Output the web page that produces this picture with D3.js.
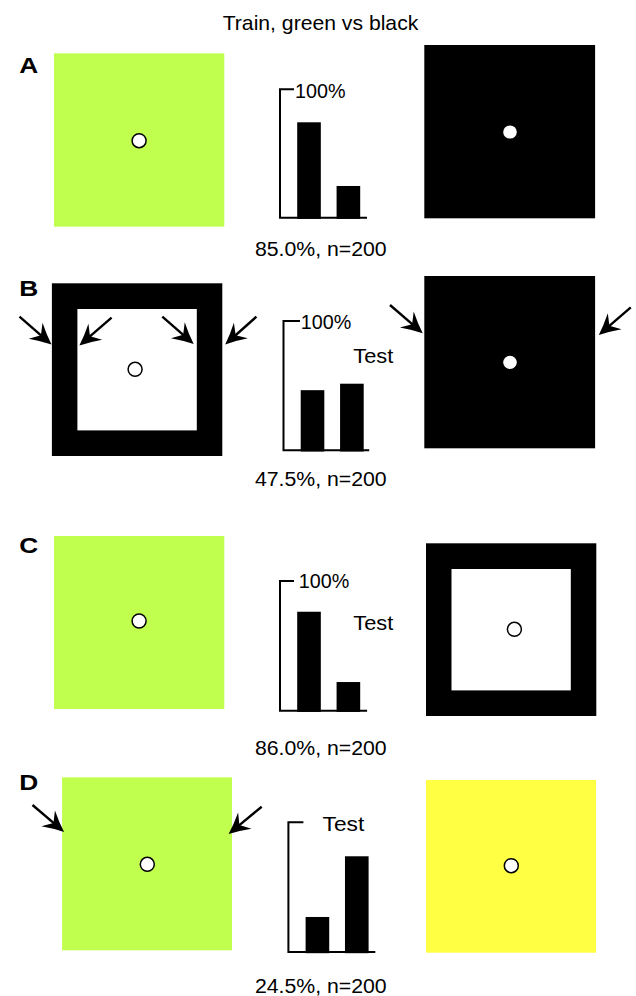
<!DOCTYPE html>
<html><head><meta charset="utf-8">
<script src="https://cdn.jsdelivr.net/npm/d3@7"></script>
<style>body{margin:0;background:#fff}svg{display:block}text{font-family:"Liberation Sans",Arial,sans-serif;fill:#000}</style>
</head><body>
<script>
// ---- data ----
const title = "Train, green vs black";
const panels = ["A", "B", "C", "D"];
const choiceLeft = [74.3, 46.5, 76.3, 27.0];   // % bar 1 (left stimulus)
const choiceRight = [24.7, 51.5, 22.1, 73.8];  // % bar 2 (right stimulus)
const scoreLabels = ["85.0%", "47.5%", "86.0%", "24.5%"];
const nTrials = [200, 200, 200, 200];
const axisLabels = ["100%", "100%", "100%", ""];
const phaseLabels = ["", "Test", "Test", "Test"];
const leftStim = ["green", "frame", "green", "green"];
const rightStim = ["black", "black", "frame", "yellow"];

// ---- layout (positions / styles) ----
const W = 636, H = 996;
const colors = {green: "#c1ff4f", yellow: "#ffff44", black: "#000"};
const layout = [
  {lab:[19.3,73.3], L:[54,53.3,170.3,173.4], R:[424.3,45,170.8,173.3], Lc:[139.1,140.7], Rc:[510,132],
   ax:280, top:89.3, base:217.7, end:367, tickEnd:294, axLab:[295,97.5], ph:null, score:256,
   arrows:[]},
  {lab:[19.3,296.3], L:[51.9,283.3,170.4,172.7], R:[424.3,276,170.8,172.3], Lc:[135.1,369.3], Rc:[510,362.3],
   ax:283.5, top:321, base:450.3, end:369.2, tickEnd:300, axLab:[300.7,328.5], ph:[353.3,363.3], score:486,
   arrows:[[19.5,316.7,51.5,344.5],[111.6,317.7,79.4,345.5],[162.3,316.7,193.7,344],[256.4,316.7,225.2,344.5],
           [390,305,422.7,333.3],[630.8,307.3,598.8,335]]},
  {lab:[19.3,553], L:[54,536,170.3,173], R:[426,543.3,170.3,172.7], Lc:[139.1,621], Rc:[514.4,629.3],
   ax:280, top:581, base:710.7, end:367.1, tickEnd:294, axLab:[298.8,588], ph:[353.3,629.8], score:755,
   arrows:[]},
  {lab:[19.3,790], L:[62.1,777.3,169.9,173], R:[426,780,170,172.7], Lc:[147.3,864.3], Rc:[511.3,865.7],
   ax:288.4, top:822.3, base:952, end:375.3, tickEnd:303.4, axLab:null, ph:[322.5,831], score:993,
   arrows:[[32.5,805,64.1,832],[261.7,806.7,228.6,834]]}
];

const svg = d3.select("body").append("svg").attr("width", W).attr("height", H);

function txt(g, s, x, y, size, len, anchor, bold) {
  const t = g.append("text").attr("x", x).attr("y", y).attr("font-size", size)
    .attr("text-anchor", anchor || "start").text(s);
  if (bold) t.attr("font-weight", "bold");
  if (len) t.attr("textLength", len).attr("lengthAdjust", "spacingAndGlyphs");
  return t;
}

txt(svg, title, 320.5, 30, 21, 195.6, "middle");

function stimulus(g, kind, r, c) {
  const [x, y, w, h] = r;
  if (kind === "frame") {
    g.append("rect").attr("x", x).attr("y", y).attr("width", w).attr("height", h).attr("fill", "#000");
    g.append("rect").attr("x", x + 25.5).attr("y", y + 25.7).attr("width", w - 51).attr("height", h - 51.3).attr("fill", "#fff");
    g.append("circle").attr("cx", c[0]).attr("cy", c[1]).attr("r", 7).attr("fill", "#fff").attr("stroke", "#000").attr("stroke-width", 1.5);
  } else {
    g.append("rect").attr("x", x).attr("y", y).attr("width", w).attr("height", h).attr("fill", colors[kind]);
    if (kind === "black")
      g.append("ellipse").attr("cx", c[0]).attr("cy", c[1]).attr("rx", 6.8).attr("ry", 6.6).attr("fill", "#fff");
    else
      g.append("circle").attr("cx", c[0]).attr("cy", c[1]).attr("r", 7).attr("fill", "#fff").attr("stroke", "#000").attr("stroke-width", 1.5);
  }
}

function arrow(g, a) {
  const [x1, y1, x2, y2] = a;
  const ang = Math.atan2(y2 - y1, x2 - x1) * 180 / Math.PI;
  const len = Math.hypot(x2 - x1, y2 - y1);
  const ag = g.append("g").attr("transform", `translate(${x2},${y2}) rotate(${ang})`);
  ag.append("line").attr("x1", -len).attr("y1", 0).attr("x2", -12).attr("y2", 0).attr("stroke", "#000").attr("stroke-width", 2.4);
  ag.append("path").attr("d", "M0,0 Q-10,-4 -21,-10.5 L-14,0 L-21,10.5 Q-10,4 0,0 Z").attr("fill", "#000");
}

panels.forEach((p, i) => {
  const L = layout[i];
  const g = svg.append("g");
  txt(g, p, L.lab[0], L.lab[1], 22, 19, "start", true);
  stimulus(g, leftStim[i], L.L, L.Lc);
  stimulus(g, rightStim[i], L.R, L.Rc);

  const y = d3.scaleLinear().domain([0, 100]).range([L.base, L.top]);
  const x = d3.scaleBand().domain(["left", "right"])
    .range([L.ax + 17.2, L.ax + 17.2 + 63]).paddingInner(0.4).paddingOuter(0);
  const vals = [{k: "left", v: choiceLeft[i]}, {k: "right", v: choiceRight[i]}];
  g.selectAll("rect.bar").data(vals).join("rect").attr("class", "bar")
    .attr("x", d => x(d.k)).attr("width", x.bandwidth())
    .attr("y", d => y(d.v)).attr("height", d => y(0) - y(d.v) + 1.2).attr("fill", "#000");
  // axis frame: tick at 100%, vertical axis, baseline
  g.append("path").attr("fill", "none").attr("stroke", "#000").attr("stroke-width", 2)
    .attr("d", `M${L.tickEnd},${y(100)} H${L.ax} V${y(0)} H${L.end}`);
  if (axisLabels[i]) txt(g, axisLabels[i], L.axLab[0], L.axLab[1], 20, 50.5);
  if (phaseLabels[i]) txt(g, phaseLabels[i], L.ph[0], L.ph[1], 21, i === 3 ? 41.8 : 40);
  txt(g, `${scoreLabels[i]}, n=${nTrials[i]}`, 320.8, L.score, 20, 131.7, "middle");
  L.arrows.forEach(a => arrow(g, a));
});
</script>
</body></html>
